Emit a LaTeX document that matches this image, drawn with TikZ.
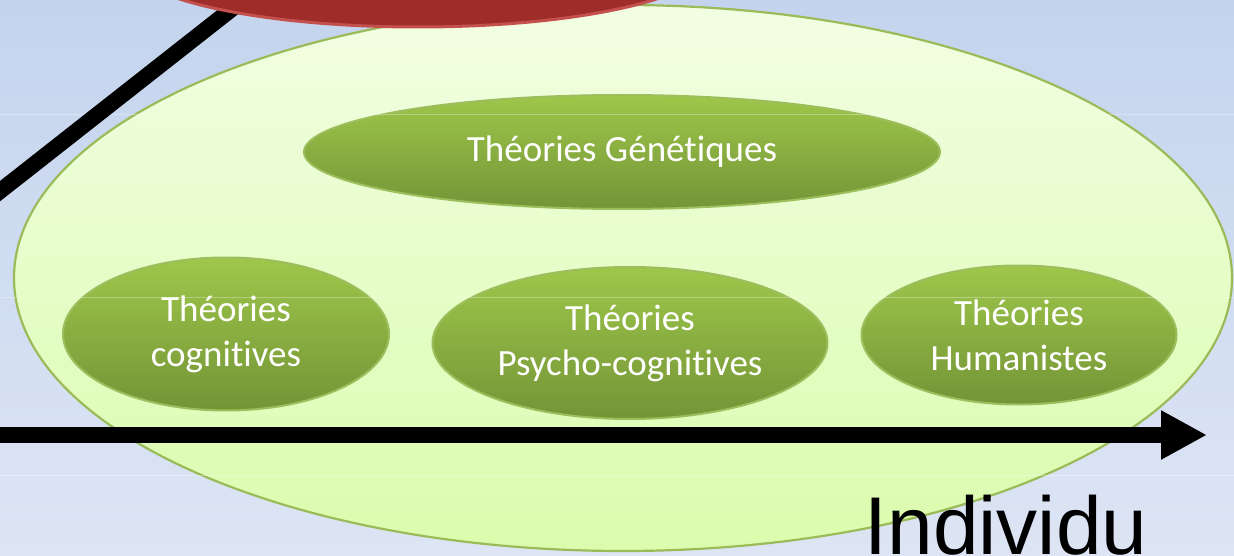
\documentclass[tikz,border=0pt]{standalone}
\usepackage{fontspec}
\setmainfont{Carlito}[Ligatures=NoCommon]
\newfontfamily\axisfont{Liberation Sans}
\usetikzlibrary{shapes.geometric,arrows.meta}

\definecolor{bgtop}{HTML}{C4D4EE}
\definecolor{bgbot}{HTML}{DDE5F4}
\definecolor{domtop}{HTML}{F2FEE3}
\definecolor{dombot}{HTML}{DBFCAD}
\definecolor{domedge}{HTML}{9BBB59}
\definecolor{gtop}{HTML}{9EC74A}
\definecolor{gbot}{HTML}{749437}
\definecolor{gedge}{HTML}{9DBE5C}
\definecolor{redfill}{HTML}{9E2D2A}
\definecolor{rededge}{HTML}{C4504D}

\tikzset{
  theory/.style={ellipse, draw=gedge, line width=2pt,
    top color=gtop, bottom color=gbot, text=white,
    inner sep=0pt, align=center,
    font=\fontsize{37}{45}\selectfont},
  axisline/.style={line width=16pt, black},
  gridline/.style={white, opacity=0.3, line width=1pt}
}

\begin{document}
\begin{tikzpicture}[x=1pt,y=-1pt]
  \useasboundingbox (0,0) rectangle (1234,556);
  \clip (0,0) rectangle (1234,556);

  % slide background
  \shade[top color=bgtop, bottom color=bgbot] (0,0) rectangle (1234,556);

  % large domain ellipse
  \node[ellipse, minimum width=1218pt, minimum height=546pt, inner sep=0pt,
        draw=domedge, line width=2.2pt, top color=domtop, bottom color=dombot]
        (domain) at (623,278) {};

  % theory ellipses
  \node[theory, minimum width=636pt, minimum height=114pt] (genetic) at (622,152)
        {Théories Génétiques};
  \node[theory, minimum width=326pt, minimum height=153pt] (cognitive) at (226,334)
        {Théories\\cognitives};
  \node[theory, minimum width=395pt, minimum height=152pt] (psycho) at (630,343)
        {Théories\\Psycho-cognitives};
  \node[theory, minimum width=315pt, minimum height=139pt] (humanist) at (1019,335)
        {Théories\\Humanistes};

  % faint guide lines
  \draw[gridline] (0,115) -- (1234,115);
  \draw[gridline] (0,297) -- (1234,297);
  \draw[gridline] (0,475) -- (1234,475);

  % diagonal axis
  \coordinate (diagStart) at (-10,199);
  \coordinate (diagEnd) at (275,-25);
  \draw[axisline] (diagStart) -- (diagEnd);

  % top ellipse
  \node[ellipse, minimum width=580pt, minimum height=130pt, inner sep=0pt,
        fill=redfill, draw=rededge, line width=3pt] (society) at (418,-38) {};

  % horizontal axis
  \coordinate (axisStart) at (-10,435);
  \coordinate (axisEnd) at (1207,435);
  \draw[axisline, -{Triangle[length=46pt,width=46pt]}] (axisStart) -- (axisEnd);

  \node[font=\axisfont\fontsize{82}{90}\selectfont, anchor=base, inner sep=0pt]
        (individu) at (1006,554) {Individu};
\end{tikzpicture}
\end{document}
